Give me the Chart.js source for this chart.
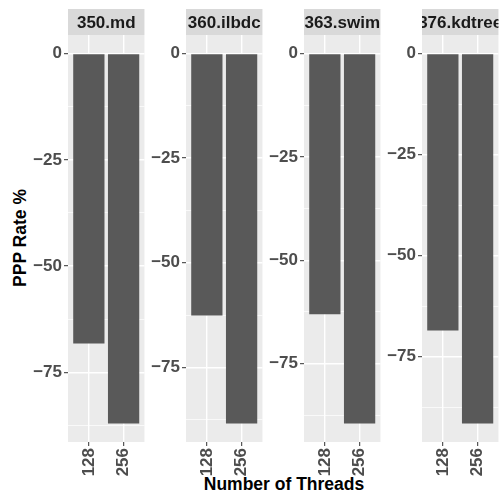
<!DOCTYPE html>
<html>
<head>
<meta charset="utf-8">
<script src="https://cdn.jsdelivr.net/npm/chart.js@4/dist/chart.umd.min.js"></script>
<style>
body { margin: 0; width: 501px; height: 495px; overflow: hidden; background: #fff; position: relative;
       font-family: "Liberation Sans", Arial, sans-serif; }
canvas.panel { position: absolute; top: 0; }
.title { position: absolute; font-weight: bold; font-size: 17.5px; line-height: 1; color: #000; white-space: nowrap; }
#xtitle { left: 284px; top: 476px; transform: translateX(-50%); }
#ytitle { left: 21px; top: 238px; transform: translate(-50%, -50%) rotate(-90deg); }
</style>
</head>
<body>
<div id="xtitle" class="title">Number of Threads</div>
<div id="ytitle" class="title">PPP Rate %</div>
<script>
// benchmarks, one facet each
var benchmarks = ["350.md", "360.ilbdc", "363.swim", "376.kdtree"];
var threads = ["128", "256"];
var rate128 = [-68.2, -62.6, -63.1, -68.5];
var rate256 = [-87.0, -88.4, -89.5, -91.5];
var yStep = 25;

var FONT = '"Liberation Sans", Arial, sans-serif';
var PANEL_W = 78, AXIS_W = 44, GAP = 40, FIRST_LEFT = 68;

function minusFmt(v){
    return v < 0 ? "\u2212" + Math.abs(v) : String(v);
}

// grey panel background + facet strip on top
var facetPlugin = {
    id: "facet",
    beforeDraw: function(chart, args, opts){
        var a = chart.chartArea, ctx = chart.ctx;
        ctx.save();
        ctx.fillStyle = "#EBEBEB";
        ctx.fillRect(a.left, a.top, a.right - a.left, a.bottom - a.top);
        ctx.fillStyle = "#D9D9D9";
        ctx.fillRect(a.left, 9, a.right - a.left, 26);
        ctx.beginPath();
        ctx.rect(a.left, 9, a.right - a.left, 26);
        ctx.clip();
        ctx.fillStyle = "#1A1A1A";
        ctx.font = "bold 17px " + FONT;
        ctx.textAlign = "center";
        ctx.textBaseline = "middle";
        ctx.fillText(opts.label, (a.left + a.right) / 2, 23);
        ctx.restore();
    }
};

function makePanel(i){
    var vals = [rate128[i], rate256[i]];
    var lo = Math.min(0, Math.min.apply(null, vals));
    var hi = Math.max(0, Math.max.apply(null, vals));
    var pad = (hi - lo) * 0.05;
    var yMin = lo - pad, yMax = hi + pad;

    var cv = document.createElement("canvas");
    cv.className = "panel";
    cv.width = AXIS_W + PANEL_W;
    cv.height = 480;
    cv.style.left = (FIRST_LEFT + i * (PANEL_W + GAP) - AXIS_W) + "px";
    cv.style.width = cv.width + "px";
    cv.style.height = cv.height + "px";
    document.body.appendChild(cv);

    var isMajor = function(ctx){ return ctx.tick && Math.abs(ctx.tick.value % yStep) < 1e-6; };

    return new Chart(cv, {
        type: "bar",
        data: {
            datasets: [{
                data: vals.map(function(v, k){ return {x: k + 1, y: v}; }),
                backgroundColor: "#595959",
                barPercentage: 0.9,
                categoryPercentage: 1.0
            }]
        },
        options: {
            responsive: false,
            animation: false,
            layout: { padding: { top: 35, left: 0, right: 0, bottom: 0 } },
            plugins: {
                legend: { display: false },
                tooltip: { enabled: false },
                facet: { label: benchmarks[i] }
            },
            scales: {
                x: {
                    type: "linear",
                    min: 0.4,
                    max: 2.6,
                    offset: false,
                    afterBuildTicks: function(s){
                        s.ticks = threads.map(function(t, k){ return {value: k + 1}; });
                    },
                    afterFit: function(s){ s.height = 38; },
                    ticks: {
                        callback: function(v){ return threads[Math.round(v) - 1]; },
                        minRotation: 90, maxRotation: 90,
                        autoSkip: false,
                        padding: 2,
                        color: "#4D4D4D",
                        font: { family: FONT, size: 17, weight: "bold" }
                    },
                    grid: { color: "#FFFFFF", lineWidth: 1.4, tickColor: "#333333", tickLength: 4, tickWidth: 1, offset: false },
                    border: { display: false }
                },
                y: {
                    min: yMin,
                    max: yMax,
                    afterBuildTicks: function(s){
                        var t = [], half = yStep / 2;
                        for (var v = Math.ceil(yMin / half) * half; v <= yMax; v += half) t.push({value: v});
                        s.ticks = t;
                    },
                    afterFit: function(s){ s.width = AXIS_W; },
                    ticks: {
                        callback: function(v){ return Math.abs(v % yStep) < 1e-6 ? minusFmt(v) : ""; },
                        autoSkip: false,
                        padding: 2,
                        color: "#4D4D4D",
                        font: { family: FONT, size: 17, weight: "bold" }
                    },
                    grid: {
                        color: "#FFFFFF",
                        lineWidth: function(ctx){ return isMajor(ctx) ? 1.4 : 0.7; },
                        tickColor: function(ctx){ return isMajor(ctx) ? "#333333" : "rgba(0,0,0,0)"; },
                        tickLength: 4,
                        tickWidth: 1
                    },
                    border: { display: false }
                }
            }
        },
        plugins: [facetPlugin]
    });
}

benchmarks.forEach(function(b, i){ makePanel(i); });
</script>
</body>
</html>
